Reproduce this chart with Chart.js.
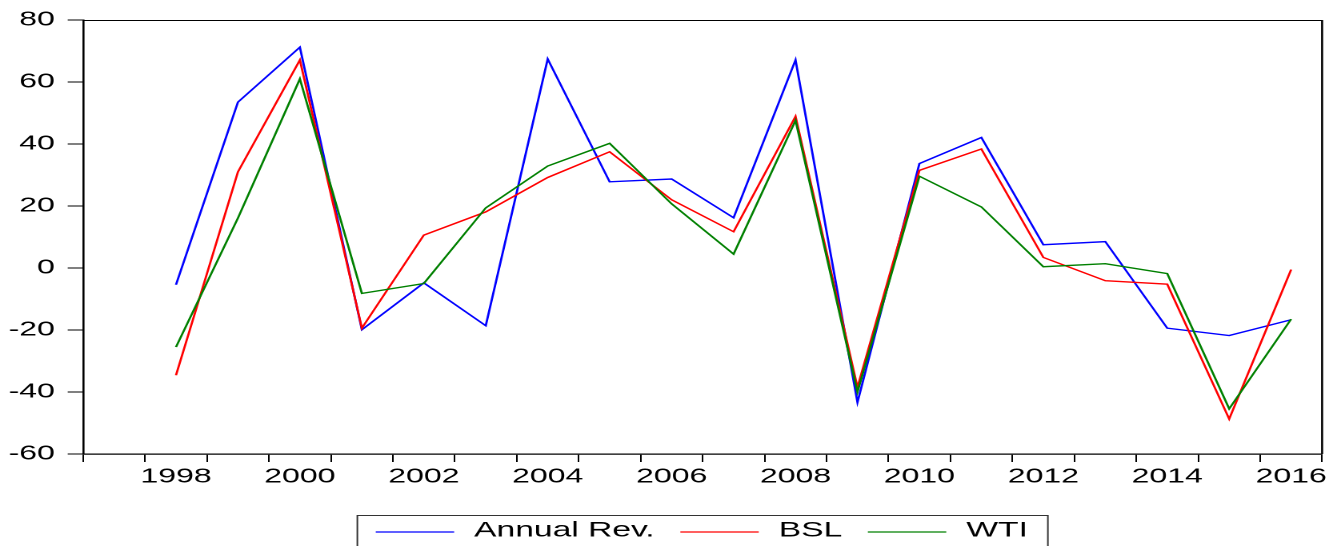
<!DOCTYPE html>
<html>
<head>
<meta charset="utf-8">
<title>Annual Rev., BSL, WTI</title>
<script src="https://cdn.jsdelivr.net/npm/chart.js@4.4.1/dist/chart.umd.min.js"></script>
<style>
html, body { margin: 0; padding: 0; background: #fff; overflow: hidden; }
/* the original export is stretched sideways, so draw narrow and widen it */
#wrap { width: 838px; height: 546px; transform: scaleX(1.60024); transform-origin: 0 0; }
</style>
</head>
<body>
<div id="wrap"><canvas id="myChart" width="838" height="546"></canvas></div>
<script>
const years = [1997, 1998, 1999, 2000, 2001, 2002, 2003, 2004, 2005, 2006,
               2007, 2008, 2009, 2010, 2011, 2012, 2013, 2014, 2015, 2016];
const yearLabels = ['1998', '2000', '2002', '2004', '2006', '2008', '2010', '2012', '2014', '2016'];

const annualRev = [null, -5.4, 53.5, 71.2, -19.9, -4.8, -18.6, 67.4, 27.8, 28.7,
                   16.2, 67.1, -43.3, 33.7, 42.1, 7.5, 8.5, -19.4, -21.8, -16.7];
const bsl = [null, -34.6, 31.0, 67.1, -19.4, 10.6, 18.1, 29.2, 37.5, 22.0,
             11.7, 48.9, -38.5, 31.5, 38.4, 3.4, -4.1, -5.2, -48.7, -0.5];
const wti = [null, -25.5, 16.1, 61.0, -8.2, -5.0, 19.4, 32.9, 40.2, 20.7,
             4.5, 47.6, -40.0, 29.6, 19.7, 0.4, 1.4, -1.8, -45.4, -16.5];

const yMin = -60, yMax = 80, yStep = 20;

const FONT = '"Liberation Sans", Arial, sans-serif';

// top and right edges of the plot frame
const frame = {
  id: 'frame',
  afterDatasetsDraw(chart) {
    const ctx = chart.ctx;
    const {left, top, right, bottom} = chart.chartArea;
    ctx.save();
    ctx.strokeStyle = '#000';
    ctx.lineWidth = 1;
    ctx.beginPath();
    ctx.moveTo(left, top + 0.5);
    ctx.lineTo(right, top + 0.5);
    ctx.stroke();
    ctx.lineWidth = 1.3;
    ctx.beginPath();
    ctx.moveTo(right, top);
    ctx.lineTo(right, bottom);
    ctx.stroke();
    ctx.restore();
  }
};

// boxed legend under the plot, partly cut by the bottom edge
const legendBox = {
  id: 'legendBox',
  afterDraw(chart) {
    const ctx = chart.ctx;
    const area = chart.chartArea;
    const lineLen = 49, gapText = 12.5, gapItem = 16, padL = 11.5, padR = 12.5;
    ctx.save();
    ctx.font = '21px ' + FONT;
    const items = chart.data.datasets.map(ds => ({
      text: ds.label, color: ds.borderColor, w: ctx.measureText(ds.label).width
    }));
    let total = padL + padR;
    items.forEach((it, i) => {
      total += lineLen + gapText + it.w + (i < items.length - 1 ? gapItem : 0);
    });
    let x = (area.left + area.right) / 2 - total / 2;
    const top = chart.height - 30.5;
    const yMid = chart.height - 14;
    ctx.strokeStyle = '#333';
    ctx.lineWidth = 1;
    ctx.strokeRect(x, top, total, 60);
    x += padL;
    ctx.textBaseline = 'middle';
    ctx.fillStyle = '#000';
    items.forEach(it => {
      ctx.beginPath();
      ctx.moveTo(x, yMid);
      ctx.lineTo(x + lineLen, yMid);
      ctx.strokeStyle = it.color;
      ctx.lineWidth = 1.3;
      ctx.stroke();
      x += lineLen + gapText;
      ctx.fillText(it.text, x, yMid - 1.5);
      x += it.w + gapItem;
    });
    ctx.restore();
  }
};

function createChart() {
  const ctx = document.getElementById('myChart').getContext('2d');
  return new Chart(ctx, {
    type: 'line',
    data: {
      labels: years,
      datasets: [
        { label: 'Annual Rev.', data: annualRev, borderColor: '#0000FF', order: 3 },
        { label: 'BSL', data: bsl, borderColor: '#FF0000', order: 2 },
        { label: 'WTI', data: wti, borderColor: '#008000', order: 1 }
      ]
    },
    options: {
      responsive: false,
      animation: false,
      devicePixelRatio: 2,
      layout: { padding: { left: 0, right: 11.8, top: 20, bottom: 52 } },
      elements: {
        line: { borderWidth: 1.4, tension: 0, fill: false },
        point: { radius: 0, hoverRadius: 0 }
      },
      plugins: {
        legend: { display: false },
        tooltip: { enabled: false }
      },
      scales: {
        x: {
          type: 'category',
          offset: true,
          grid: { offset: true, drawOnChartArea: false, drawTicks: true, tickLength: 8, color: '#000', lineWidth: 1 },
          border: { display: true, color: '#000', width: 1.2 },
          ticks: {
            autoSkip: false,
            maxRotation: 0,
            padding: 3,
            color: '#000',
            font: { family: FONT, size: 20 },
            callback(value) {
              const y = String(this.getLabelForValue(value));
              return yearLabels.includes(y) ? y : '';
            }
          },
          afterFit(scale) { scale.height = 40; }
        },
        y: {
          min: yMin,
          max: yMax,
          ticks: { stepSize: yStep, padding: 8, color: '#000', font: { family: FONT, size: 20 } },
          grid: { drawOnChartArea: false, tickLength: 9.6, color: '#000', lineWidth: 1 },
          border: { display: true, color: '#000', width: 1.3 },
          afterFit(scale) { scale.width = 51.9; }
        }
      }
    },
    plugins: [frame, legendBox]
  });
}

createChart();
</script>
</body>
</html>
